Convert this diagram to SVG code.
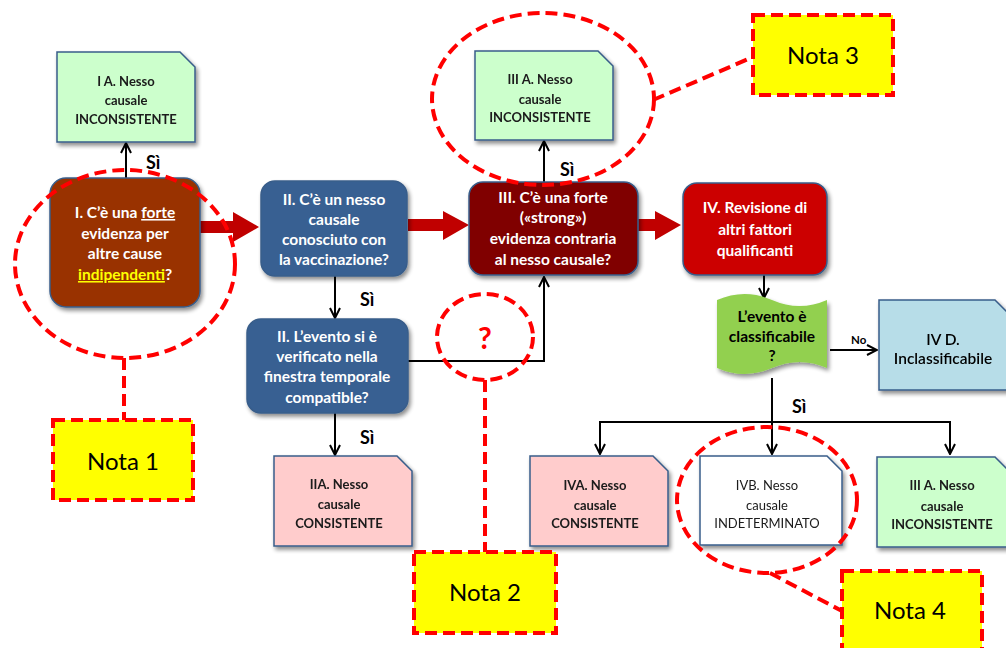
<svg xmlns="http://www.w3.org/2000/svg" width="1006" height="648" viewBox="0 0 1006 648">
<defs>
<style>
.q{font-family:Lato,"Liberation Sans",sans-serif;font-weight:bold;font-size:15.5px;fill:#fff;text-anchor:middle}
.n{font-family:Lato,"Liberation Sans",sans-serif;font-weight:bold;font-size:13px;fill:#1a1a1a;text-anchor:middle}
.nt{font-family:Lato,"Liberation Sans",sans-serif;font-size:24px;fill:#000;text-anchor:middle}
.si{font-family:Lato,"Liberation Sans",sans-serif;font-weight:bold;font-size:18px;fill:#000}
.box{stroke:#385d8a;stroke-width:1.5}
.dash{fill:none;stroke:#ff0000;stroke-width:4;stroke-dasharray:12,6}
.nota{fill:#ffff00;stroke:#ff0000;stroke-width:4;stroke-dasharray:12,6}
.ln{fill:none;stroke:#000;stroke-width:2}
.blk{fill:#c00000}
</style>
<marker id="ah" viewBox="0 0 12 12" refX="11" refY="6" markerWidth="12" markerHeight="12" markerUnits="userSpaceOnUse" orient="auto">
<path d="M1,1 L11,6 L1,11" fill="none" stroke="#000" stroke-width="2"/>
</marker>
<filter id="sh" x="-10%" y="-10%" width="125%" height="130%">
<feGaussianBlur in="SourceAlpha" stdDeviation="2"/>
<feOffset dx="2" dy="3" result="o"/>
<feComponentTransfer><feFuncA type="linear" slope="0.45"/></feComponentTransfer>
<feMerge><feMergeNode/><feMergeNode in="SourceGraphic"/></feMerge>
</filter>
</defs>
<rect width="1006" height="648" fill="#fff"/>

<g id="connectors">
<path class="blk" d="M200,221 H233 V212 L259,227 L233,242 V233 H200 Z"/>
<path class="blk" d="M408,219 H443 V211 L469,225 L443,240 V231 H408 Z"/>
<path class="blk" d="M638,219 H655 V211 L681,225 L655,240 V231 H638 Z"/>
<line class="ln" x1="126" y1="178" x2="126" y2="143" marker-end="url(#ah)"/>
<line class="ln" x1="544" y1="182" x2="544" y2="141" marker-end="url(#ah)"/>
<line class="ln" x1="335" y1="276" x2="335" y2="318" marker-end="url(#ah)"/>
<line class="ln" x1="335" y1="413" x2="335" y2="455" marker-end="url(#ah)"/>
<polyline class="ln" points="408,361 544,361 544,277" marker-end="url(#ah)"/>
<line class="ln" x1="764" y1="275" x2="764" y2="298" marker-end="url(#ah)"/>
<line class="ln" x1="830" y1="350" x2="877" y2="350" marker-end="url(#ah)"/>
<line class="ln" x1="772" y1="378" x2="772" y2="422"/>
<polyline class="ln" points="600,422 950,422 950,454" marker-end="url(#ah)"/>
<line class="ln" x1="600" y1="421" x2="600" y2="454" marker-end="url(#ah)"/>
<line class="ln" x1="772" y1="422" x2="772" y2="454" marker-end="url(#ah)"/>
<text class="si" x="146" y="169">Sì</text>
<text class="si" x="560" y="176">Sì</text>
<text class="si" x="360" y="306">Sì</text>
<text class="si" x="360" y="444">Sì</text>
<text class="si" x="792" y="413">Sì</text>
<text x="851" y="344" style="font-family:Lato,'Liberation Sans',sans-serif;font-size:11.5px;font-weight:bold;fill:#000">No</text>
</g>

<g id="nodeIA" filter="url(#sh)">
<path class="box" d="M57,52 H180 L195,67 V142 H57 Z" fill="#ccffcc"/>
<text class="n" x="126" y="86">I A. Nesso</text>
<text class="n" x="126" y="105">causale</text>
<text class="n" x="126" y="124">INCONSISTENTE</text>
</g>

<g id="nodeI">
<rect class="box" x="50" y="178" width="150" height="129" rx="16" fill="#993300" filter="url(#sh)"/>
<text class="q" x="125" y="218">I. C’è una <tspan text-decoration="underline">forte</tspan></text>
<text class="q" x="125" y="239">evidenza per</text>
<text class="q" x="125" y="259">altre cause</text>
<text class="q" x="125" y="280"><tspan fill="#ffff00" text-decoration="underline">indipendenti</tspan>?</text>
</g>

<g id="nodeII">
<rect class="box" x="261" y="181" width="146" height="95" rx="14" fill="#376092" filter="url(#sh)"/>
<text class="q" x="334" y="205">II. C’è un nesso</text>
<text class="q" x="334" y="225">causale</text>
<text class="q" x="334" y="245">conosciuto con</text>
<text class="q" x="334" y="265">la vaccinazione?</text>
</g>

<g id="nodeIIb">
<rect class="box" x="247" y="319" width="161" height="94" rx="14" fill="#376092" filter="url(#sh)"/>
<text class="q" x="327" y="342">II. L’evento si è</text>
<text class="q" x="327" y="362">verificato nella</text>
<text class="q" x="327" y="382">finestra temporale</text>
<text class="q" x="327" y="403">compatible?</text>
</g>

<g id="nodeIIA" filter="url(#sh)">
<path class="box" d="M274,456 H397 L412,471 V546 H274 Z" fill="#ffcccc"/>
<text class="n" x="339" y="489">IIA. Nesso</text>
<text class="n" x="339" y="509">causale</text>
<text class="n" x="339" y="528">CONSISTENTE</text>
</g>

<g id="nodeIII">
<rect class="box" x="469" y="182" width="169" height="93" rx="14" fill="#800000" filter="url(#sh)"/>
<text class="q" x="553" y="203">III. C’è una forte</text>
<text class="q" x="553" y="223">(«strong»)</text>
<text class="q" x="553" y="244">evidenza contraria</text>
<text class="q" x="553" y="265">al nesso causale?</text>
</g>

<g id="nodeIIIA" filter="url(#sh)">
<path class="box" d="M475,51 H598 L613,66 V140 H475 Z" fill="#ccffcc"/>
<text class="n" x="540" y="84">III A. Nesso</text>
<text class="n" x="540" y="104">causale</text>
<text class="n" x="540" y="122">INCONSISTENTE</text>
</g>

<g id="nodeIV">
<rect class="box" x="683" y="183" width="144" height="92" rx="14" fill="#cc0000" filter="url(#sh)"/>
<text class="q" x="755" y="213">IV. Revisione di</text>
<text class="q" x="755" y="235">altri fattori</text>
<text class="q" x="755" y="256">qualificanti</text>
</g>

<g id="nodeClass">
<path d="M717,300 Q744.5,288 772,300 T827,300 V368 Q799.5,356 772,368 T717,368 Z" fill="#92d050" filter="url(#sh)"/>
<text class="q" x="772" y="322" style="fill:#000">L’evento è</text>
<text class="q" x="772" y="342" style="fill:#000">classificabile</text>
<text class="q" x="772" y="361" style="fill:#000">?</text>
</g>

<g id="nodeIVD" filter="url(#sh)">
<path class="box" d="M879,300 H995 L1010,315 V390 H879 Z" fill="#b7dde8"/>
<text class="q" x="943" y="345" style="fill:#000;font-weight:600">IV D.</text>
<text class="q" x="943" y="364" style="fill:#000;font-weight:600">Inclassificabile</text>
</g>

<g id="nodeIVA" filter="url(#sh)">
<path class="box" d="M530,456 H653 L668,471 V546 H530 Z" fill="#ffcccc"/>
<text class="n" x="595" y="490">IVA. Nesso</text>
<text class="n" x="595" y="510">causale</text>
<text class="n" x="595" y="528">CONSISTENTE</text>
</g>

<g id="nodeIVB" filter="url(#sh)">
<path class="box" d="M700,456 H827 L842,471 V545 H700 Z" fill="#ffffff"/>
<text class="n" x="767" y="490" style="font-weight:normal">IVB. Nesso</text>
<text class="n" x="767" y="510" style="font-weight:normal">causale</text>
<text class="n" x="767" y="528" style="font-weight:normal">INDETERMINATO</text>
</g>

<g id="nodeIIIA2" filter="url(#sh)">
<path class="box" d="M877,457 H995 L1010,472 V547 H877 Z" fill="#ccffcc"/>
<text class="n" x="942" y="490">III A. Nesso</text>
<text class="n" x="942" y="511">causale</text>
<text class="n" x="942" y="529">INCONSISTENTE</text>
</g>

<g id="nota1">
<ellipse class="dash" cx="125" cy="264" rx="110" ry="94"/>
<line class="dash" x1="124" y1="358" x2="124" y2="420"/>
<rect class="nota" x="53" y="420" width="140" height="80"/>
<text class="nt" x="123" y="470">Nota 1</text>
</g>

<g id="nota2">
<ellipse class="dash" cx="485" cy="337" rx="48" ry="43"/>
<text x="485" y="349" style="font-family:Lato,'Liberation Sans',sans-serif;font-weight:bold;font-size:30px;fill:#ff0000;text-anchor:middle">?</text>
<line class="dash" x1="485" y1="380" x2="485" y2="552"/>
<rect class="nota" x="414" y="552" width="142" height="81"/>
<text class="nt" x="485" y="601">Nota 2</text>
</g>

<g id="nota3">
<ellipse class="dash" cx="543" cy="99" rx="111" ry="86"/>
<line class="dash" x1="653" y1="100" x2="753" y2="57"/>
<rect class="nota" x="753" y="15" width="140" height="80"/>
<text class="nt" x="823" y="64">Nota 3</text>
</g>

<g id="nota4">
<ellipse class="dash" cx="767" cy="500" rx="90" ry="73"/>
<line class="dash" x1="770" y1="573" x2="842" y2="611"/>
<rect class="nota" x="842" y="571" width="140" height="82"/>
<text class="nt" x="910" y="619">Nota 4</text>
</g>
</svg>
